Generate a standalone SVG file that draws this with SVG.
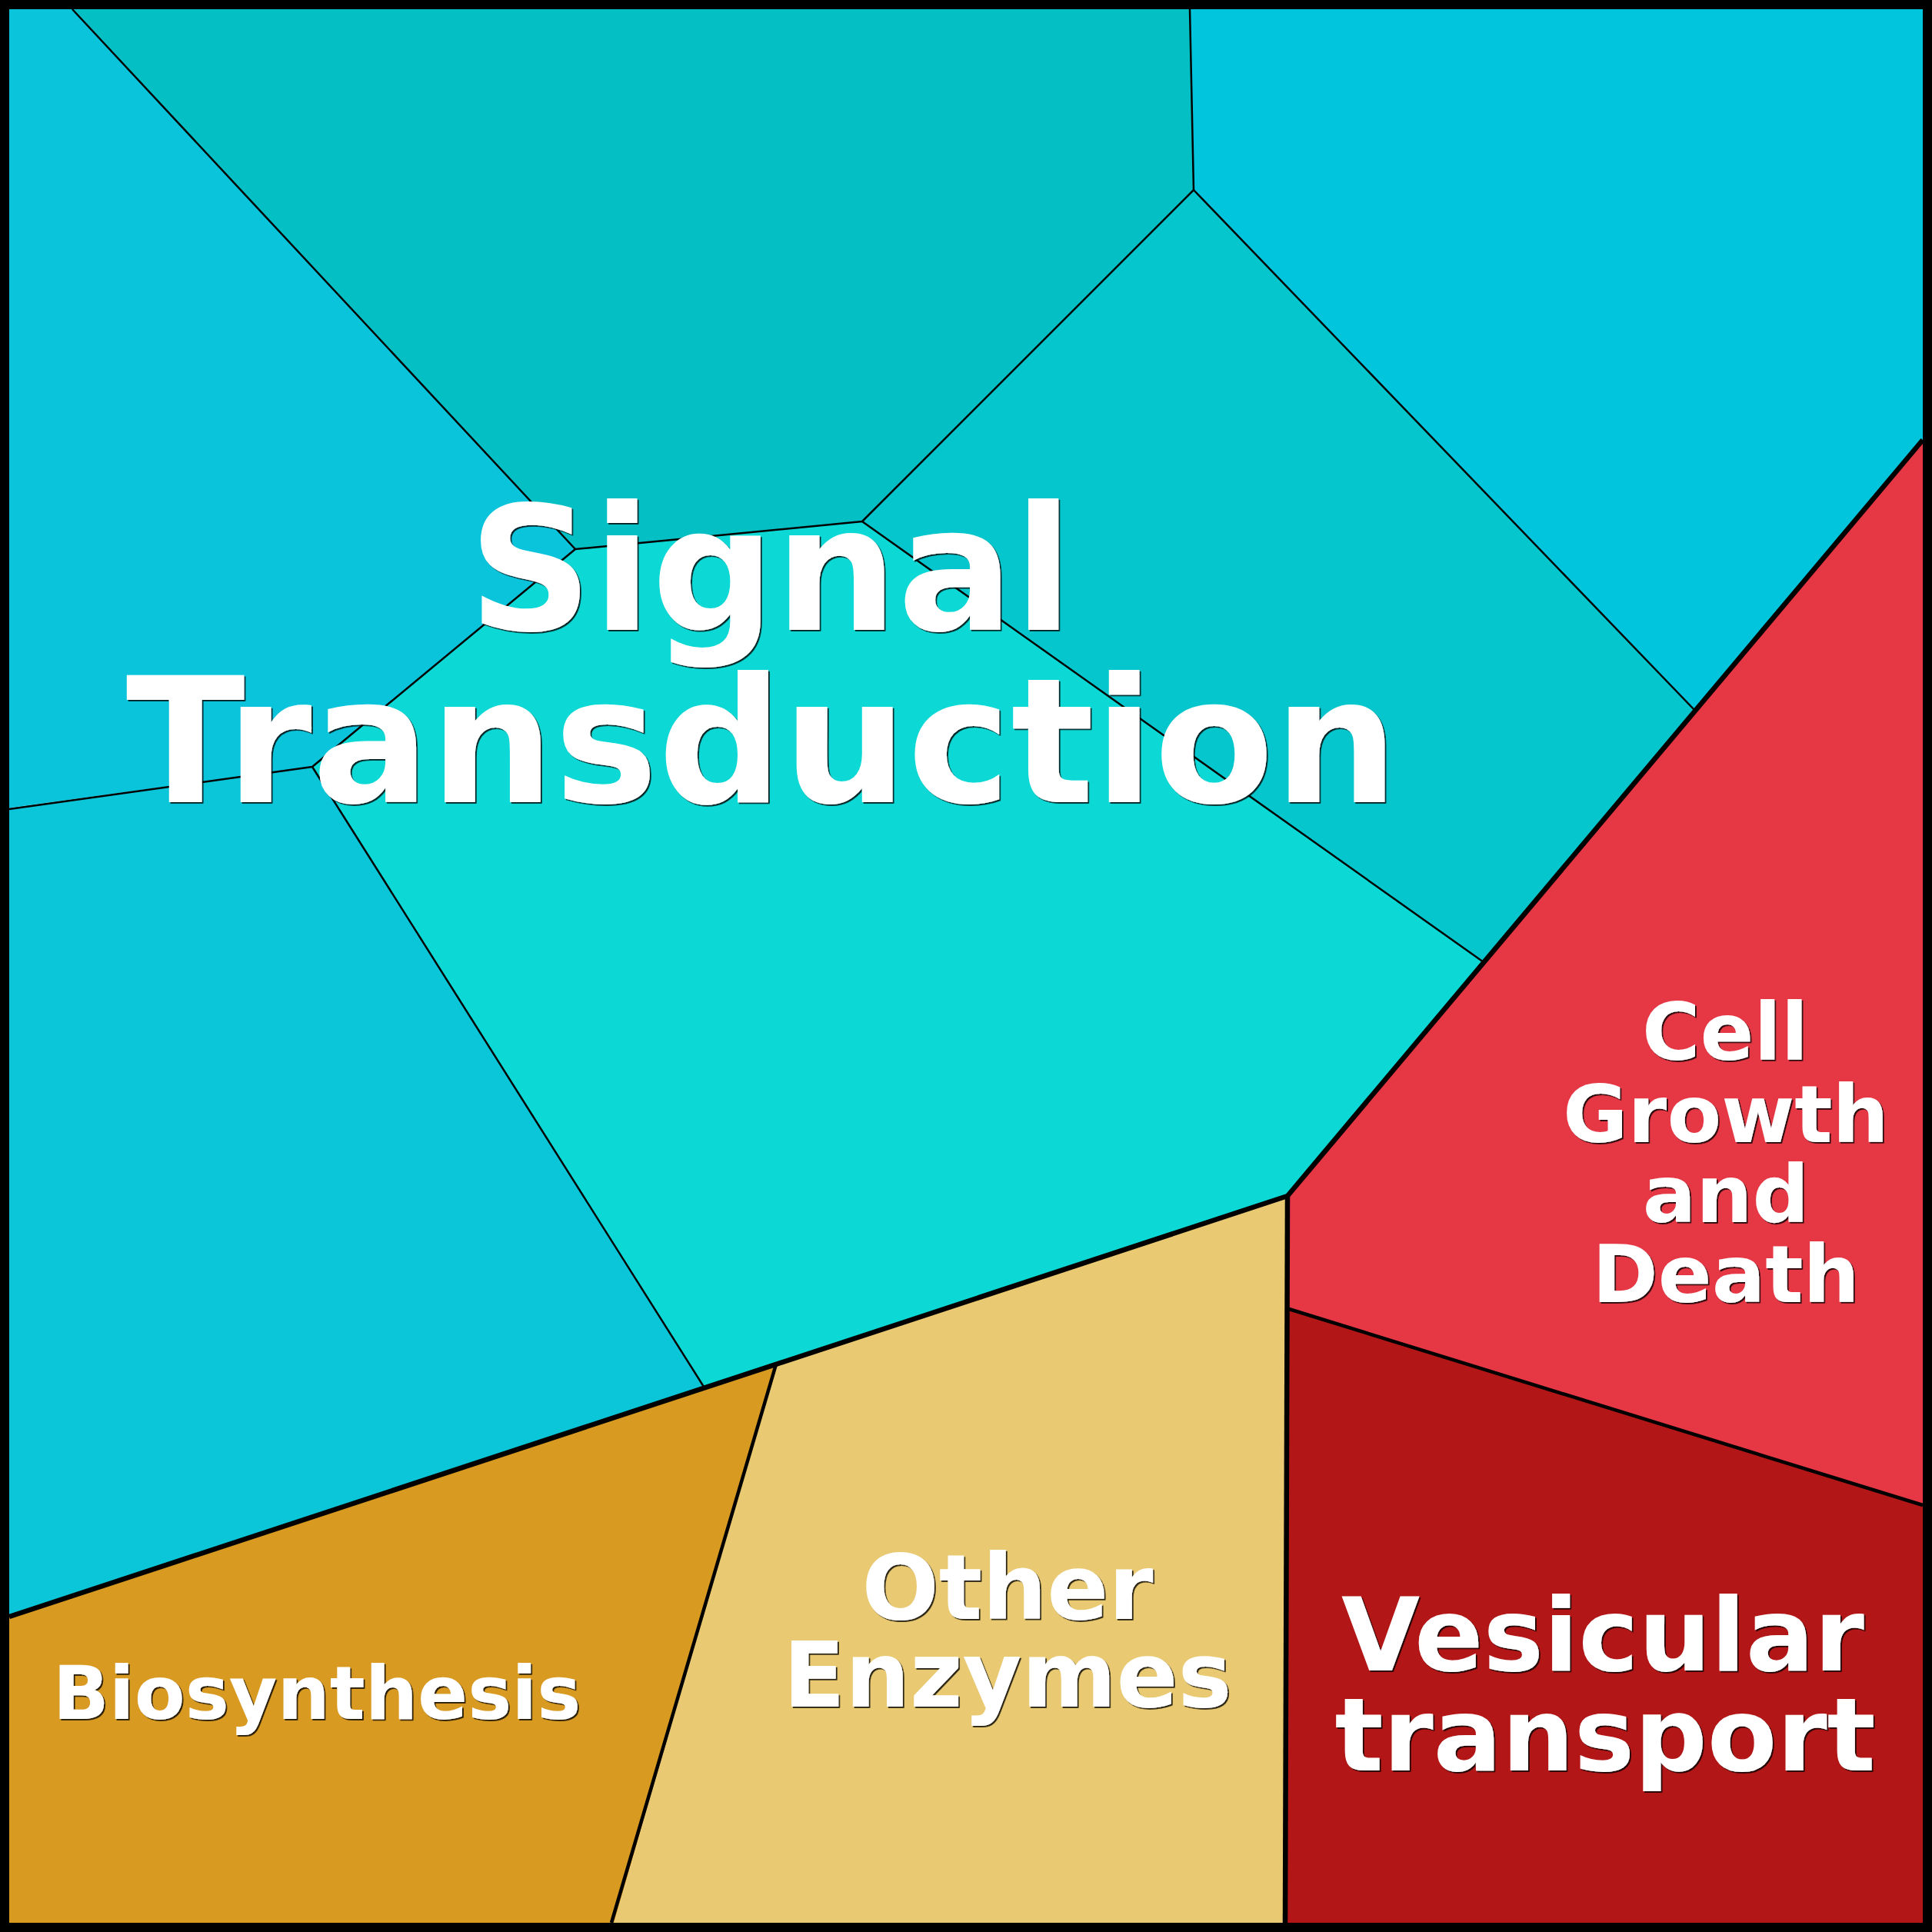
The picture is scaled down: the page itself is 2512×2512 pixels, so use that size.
<svg xmlns="http://www.w3.org/2000/svg" width="2512" height="2512" viewBox="0 0 2512 2512">
<style>
.lbl{font-family:"DejaVu Sans","Liberation Sans",sans-serif;font-weight:bold;fill:#ffffff;text-anchor:middle;filter:url(#sh)}
.thin{fill:none;stroke:#000;stroke-width:2.5;stroke-linejoin:round}
.med{fill:none;stroke:#000;stroke-width:4.5;stroke-linejoin:round}
.thick{fill:none;stroke:#000;stroke-width:6.5;stroke-linejoin:round}
</style>
<defs>
<filter id="sh" x="-5%" y="-5%" width="110%" height="110%">
<feDropShadow dx="1.8" dy="1.8" stdDeviation="0.6" flood-color="#000" flood-opacity="0.85"/>
</filter>
</defs>
<g id="cell-topleft"><polygon points="0,0 94,0 94,12 748,714 406,997 0,1052" fill="#0AC4DC"/></g>
<g id="cell-topcenter"><polygon points="94,0 1547,0 1547,12 1552,247 1121,678 748,714 94,12" fill="#04BFC3"/></g>
<g id="cell-topright"><polygon points="1547,0 2512,0 2512,560 2204,924 1552,247 1547,12" fill="#00C5DC"/></g>
<g id="cell-midright"><polygon points="1552,247 2204,924 1929,1251 1121,678" fill="#05C6CC"/></g>
<g id="cell-center"><polygon points="748,714 1121,678 1929,1251 1674,1555 915,1805 406,997" fill="#0CD8D5"/></g>
<g id="cell-left"><polygon points="0,1052 406,997 915,1805 0,2106" fill="#0BC5D8"/></g>
<g id="biosynthesis"><polygon points="0,2106 1009,1774 795,2512 0,2512" fill="#D99A22"/></g>
<g id="other-enzymes"><polygon points="1009,1774 1674,1555 1671,2512 795,2512" fill="#E9C972"/></g>
<g id="cell-growth"><polygon points="1674,1555 2512,558 2512,1961 1676,1702" fill="#E53744"/></g>
<g id="vesicular"><polygon points="1676,1702 2512,1961 2512,2512 1671,2512" fill="#B21616"/></g>
<g id="connectors">
<polyline class="thin" points="94,12 748,714 406,997 12,1052"/>
<polyline class="thin" points="748,714 1121,678 1552,247 1547,12"/>
<polyline class="thin" points="1552,247 2204,924"/>
<polyline class="thin" points="1121,678 1929,1251"/>
<polyline class="thin" points="406,997 915,1803"/>
<polyline class="med" points="1009,1774 795,2500"/>
<polyline class="med" points="1676,1702 2500,1957"/>
<polyline class="thick" points="1674,1555 1671,2500"/>
<polyline class="thick" points="12,2102 1674,1555 2500,572"/>
<rect x="6" y="6" width="2500" height="2500" fill="none" stroke="#000" stroke-width="12"/>
</g>
<g id="labels">
<text class="lbl" x="1002" y="819" font-size="224">Signal</text>
<text class="lbl" x="991" y="1043" font-size="227">Transduction</text>
<text class="lbl" x="2243" y="1378" font-size="103">Cell</text>
<text class="lbl" x="2244" y="1485" font-size="103">Growth</text>
<text class="lbl" x="2244" y="1589" font-size="103">and</text>
<text class="lbl" x="2244" y="1693" font-size="103">Death</text>
<text class="lbl" x="1310" y="2105" font-size="118">Other</text>
<text class="lbl" x="1310" y="2219" font-size="118">Enzymes</text>
<text class="lbl" x="2084" y="2172" font-size="132">Vesicular</text>
<text class="lbl" x="2087" y="2302" font-size="132">transport</text>
<text class="lbl" x="412" y="2235" font-size="96">Biosynthesis</text>
</g>
</svg>
